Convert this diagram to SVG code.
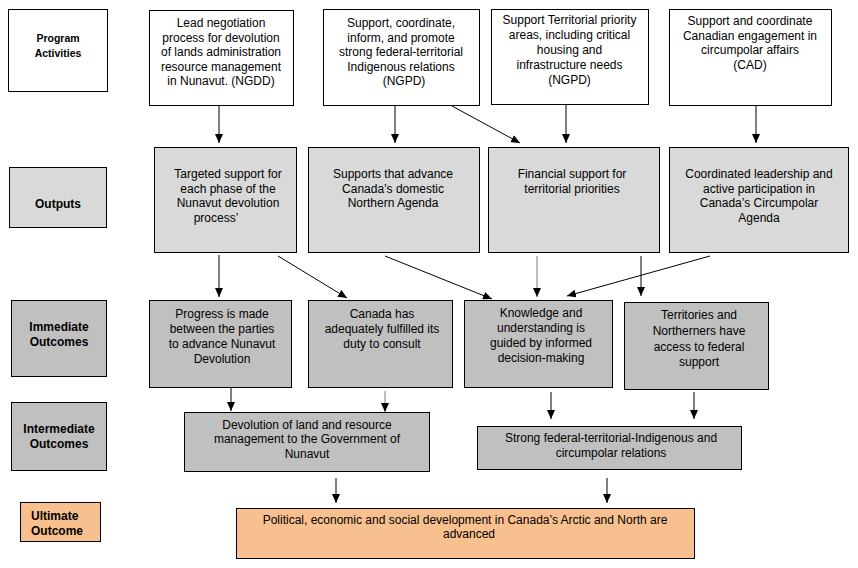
<svg xmlns="http://www.w3.org/2000/svg" width="858" height="568" viewBox="0 0 858 568">
<style>
.box{stroke:#000;stroke-width:1}
.w{fill:#fff}
.o{fill:#d9d9d9}
.g{fill:#c0c0c0}
.u{fill:#f9c08f}
text{font-family:"Liberation Sans",Arial,sans-serif;font-size:12px;fill:#000;text-anchor:middle}
.lbl{font-weight:bold}
.pa{font-size:10.5px}
.c{stroke:#000;stroke-width:1;fill:none;marker-end:url(#ah)}
.cg{stroke:#7f7f7f;stroke-width:1;fill:none;marker-end:url(#ah)}
</style>
<defs>
<marker id="ah" markerUnits="userSpaceOnUse" markerWidth="9" markerHeight="8" refX="9" refY="4" orient="auto">
<path d="M0,0 L9,4 L0,8 z" fill="#000"/>
</marker>
</defs>
<rect width="858" height="568" fill="#fff"/>

<g id="label-program-activities">
<rect class="box w" x="8.5" y="9.5" width="99" height="82"/>
<text class="lbl pa" x="58" y="42">Program</text>
<text class="lbl pa" x="58" y="57">Activities</text>
</g>
<g id="label-outputs">
<rect class="box o" x="9.5" y="167.5" width="97" height="60"/>
<text class="lbl" x="58" y="208">Outputs</text>
</g>
<g id="label-immediate">
<rect class="box g" x="11.5" y="300.5" width="95" height="76"/>
<text class="lbl" x="59" y="331">Immediate</text>
<text class="lbl" x="59" y="346">Outcomes</text>
</g>
<g id="label-intermediate">
<rect class="box g" x="11.5" y="402.5" width="95" height="68"/>
<text class="lbl" x="59" y="433">Intermediate</text>
<text class="lbl" x="59" y="448">Outcomes</text>
</g>
<g id="label-ultimate">
<rect class="box u" x="20.5" y="502.5" width="80" height="39"/>
<text class="lbl" x="31" y="520" style="text-anchor:start">Ultimate</text>
<text class="lbl" x="31" y="535" style="text-anchor:start">Outcome</text>
</g>

<g id="pa1">
<rect class="box w" x="149.5" y="10.5" width="144" height="95"/>
<text x="221" y="27">Lead negotiation</text>
<text x="221" y="41.6">process for devolution</text>
<text x="221" y="56.2">of lands administration</text>
<text x="221" y="70.8">resource management</text>
<text x="221" y="85.4">in Nunavut. (NGDD)</text>
</g>
<g id="pa2">
<rect class="box w" x="323.5" y="9.5" width="156" height="96"/>
<text x="401" y="27">Support, coordinate,</text>
<text x="401" y="41.6">inform, and promote</text>
<text x="401" y="56.2">strong federal-territorial</text>
<text x="401" y="70.8">Indigenous relations</text>
<text x="404" y="85.4">(NGPD)</text>
</g>
<g id="pa3">
<rect class="box w" x="491.5" y="9.5" width="157" height="95"/>
<text x="569.5" y="24">Support Territorial priority</text>
<text x="569.5" y="39">areas, including critical</text>
<text x="569.5" y="54">housing and</text>
<text x="569.5" y="68.5">infrastructure needs</text>
<text x="569.5" y="83.5">(NGPD)</text>
</g>
<g id="pa4">
<rect class="box w" x="669.5" y="9.5" width="162" height="96"/>
<text x="750" y="25">Support and coordinate</text>
<text x="750" y="39.5">Canadian engagement in</text>
<text x="750" y="54">circumpolar affairs</text>
<text x="750" y="69">(CAD)</text>
</g>

<g id="o1">
<rect class="box o" x="154.5" y="147.5" width="142" height="105"/>
<text x="228" y="178">Targeted support for</text>
<text x="228" y="192.5">each phase of the</text>
<text x="228" y="207">Nunavut devolution</text>
<text x="216" y="221.5">process’</text>
</g>
<g id="o2">
<rect class="box o" x="308.5" y="147.5" width="171" height="105"/>
<text x="393" y="178">Supports that advance</text>
<text x="393" y="192.5">Canada’s domestic</text>
<text x="393" y="207">Northern Agenda</text>
</g>
<g id="o3">
<rect class="box o" x="488.5" y="147.5" width="171" height="105"/>
<text x="572" y="178">Financial support for</text>
<text x="572" y="192.5">territorial priorities</text>
</g>
<g id="o4">
<rect class="box o" x="669.5" y="147.5" width="179" height="105"/>
<text x="759" y="178">Coordinated leadership and</text>
<text x="759" y="192.5">active participation in</text>
<text x="759" y="207">Canada’s Circumpolar</text>
<text x="759" y="221.5">Agenda</text>
</g>

<g id="i1">
<rect class="box g" x="149.5" y="300.5" width="142" height="87"/>
<text x="222" y="318">Progress is made</text>
<text x="222" y="333">between the parties</text>
<text x="222" y="348">to advance Nunavut</text>
<text x="222" y="362.5">Devolution</text>
</g>
<g id="i2">
<rect class="box g" x="308.5" y="300.5" width="144" height="87"/>
<text x="382" y="318">Canada has</text>
<text x="382" y="333">adequately fulfilled its</text>
<text x="382" y="348">duty to consult</text>
</g>
<g id="i3">
<rect class="box g" x="464.5" y="300.5" width="148" height="87"/>
<text x="541" y="317">Knowledge and</text>
<text x="541" y="332">understanding is</text>
<text x="541" y="347">guided by informed</text>
<text x="541" y="362">decision-making</text>
</g>
<g id="i4">
<rect class="box g" x="624.5" y="302.5" width="144" height="87"/>
<text x="699" y="319">Territories and</text>
<text x="699" y="335">Northerners have</text>
<text x="699" y="350.5">access to federal</text>
<text x="699" y="366">support</text>
</g>

<g id="m1">
<rect class="box g" x="184.5" y="412.5" width="245" height="59"/>
<text x="307" y="429">Devolution of land and resource</text>
<text x="307" y="443">management to the Government of</text>
<text x="307" y="457.5">Nunavut</text>
</g>
<g id="m2">
<rect class="box g" x="477.5" y="426.5" width="264" height="43"/>
<text x="611" y="442">Strong federal-territorial-Indigenous and</text>
<text x="611" y="457">circumpolar relations</text>
</g>

<g id="ultimate">
<rect class="box u" x="236.5" y="508.5" width="458" height="50"/>
<text x="465" y="524">Political, economic and social development in Canada’s Arctic and North are</text>
<text x="469" y="538">advanced</text>
</g>

<g id="connectors">
<line class="c" x1="219" y1="106" x2="219" y2="143"/>
<line class="c" x1="395" y1="106" x2="395" y2="143"/>
<line class="c" x1="452" y1="106" x2="520" y2="143"/>
<line class="c" x1="566" y1="105" x2="566" y2="143"/>
<line class="c" x1="756" y1="106" x2="756" y2="143"/>
<line class="c" x1="219" y1="255" x2="219" y2="297"/>
<line class="c" x1="278" y1="256" x2="347" y2="298"/>
<line class="c" x1="385" y1="256" x2="492" y2="299"/>
<line class="cg" x1="537" y1="256" x2="537" y2="297"/>
<line class="c" x1="641" y1="256" x2="641" y2="296"/>
<line class="c" x1="710" y1="256" x2="567" y2="296"/>
<line class="c" x1="231" y1="388" x2="231" y2="411"/>
<line class="cg" x1="385" y1="391" x2="385" y2="412"/>
<line class="c" x1="551" y1="392" x2="551" y2="419"/>
<line class="c" x1="694" y1="392" x2="694" y2="419"/>
<line class="c" x1="336" y1="478" x2="336" y2="503"/>
<line class="c" x1="607" y1="478" x2="607" y2="503"/>
</g>
</svg>
